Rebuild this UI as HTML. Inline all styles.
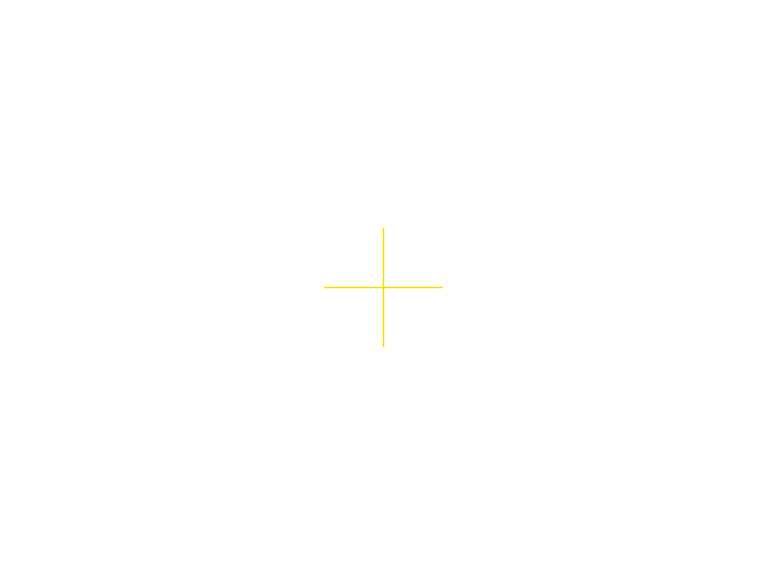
<!DOCTYPE html>
<html><head><style>html,body{margin:0;padding:0;background:#fff;width:767px;height:575px;overflow:hidden}</style></head>
<body>
<svg width="767" height="575" xmlns="http://www.w3.org/2000/svg" style="display:block">
<line x1="324" y1="287.5" x2="443" y2="287.5" stroke="#FFD700" stroke-width="1.5"/>
<line x1="383.5" y1="228" x2="383.5" y2="347" stroke="#FFD700" stroke-width="1.5"/>
</svg>
</body></html>
